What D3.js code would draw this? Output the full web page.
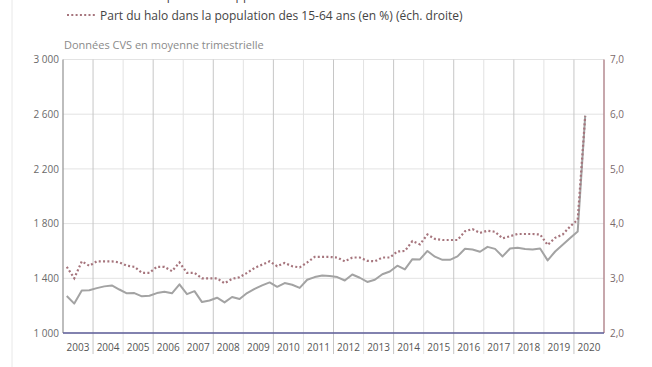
<!DOCTYPE html>
<html><head><meta charset="utf-8">
<script src="https://cdn.jsdelivr.net/npm/d3@7"></script>
<style>html,body{margin:0;padding:0;background:#fff;}svg{display:block;font-family:"Open Sans",sans-serif;}</style>
</head><body>
<svg id="c" width="652" height="367"></svg>
<script>
const years = [2003,2004,2005,2006,2007,2008,2009,2010,2011,2012,2013,2014,2015,2016,2017,2018,2019,2020];
const quarters = [];
years.forEach(y => { for (let q=1;q<=4;q++) if (!(y===2020 && q>2)) quarters.push({year:y,q:q}); });
const haloThousands = [
 1270,1215,1310,1312, 1328,1341,1348,1318, 1290,1292,1268,1272, 1292,1302,1290,1356,
 1284,1306,1226,1238, 1258,1224,1263,1248, 1292,1322,1348,1370, 1338,1365,1353,1330,
 1389,1409,1421,1416, 1409,1384,1428,1404, 1373,1389,1430,1450, 1492,1465,1540,1538,
 1600,1558,1535,1535, 1560,1616,1610,1594, 1630,1615,1560,1618, 1624,1615,1611,1618,
 1531,1596,1645,1694, 1743,2590];
const haloShare = [
 3.21,3.00,3.31,3.23, 3.31,3.31,3.31,3.29, 3.23,3.21,3.10,3.10, 3.21,3.21,3.13,3.29,
 3.10,3.10,3.00,3.00, 3.00,2.91,2.99,3.02, 3.10,3.19,3.25,3.31, 3.22,3.28,3.22,3.20,
 3.29,3.39,3.39,3.39, 3.38,3.31,3.38,3.38, 3.32,3.31,3.38,3.38, 3.49,3.50,3.68,3.62,
 3.80,3.72,3.70,3.70, 3.70,3.86,3.90,3.83, 3.87,3.85,3.73,3.77, 3.81,3.81,3.81,3.80,
 3.61,3.74,3.80,3.95, 4.07,5.97];
const leftTicks = [1000,1400,1800,2200,2600,3000];
const leftTickLabels = ["1 000","1 400","1 800","2 200","2 600","3 000"];
const rightTicks = [2,3,4,5,6,7];
const rightTickLabels = ["2,0","3,0","4,0","5,0","6,0","7,0"];
const legendHidden = "Nombre de personnes appartenant au halo";
const legendShare = "Part du halo dans la population des 15-64 ans (en %) (éch. droite)";
const subtitle = "Données CVS en moyenne trimestrielle";

const svg = d3.select("#c");
const L = 63, R = 604, T = 59.5, B = 333;
const x = d3.scaleLinear().domain([2003, 2021]).range([L, R]);
const yL = d3.scaleLinear().domain([1000, 3000]).range([B, T]);
const yR = d3.scaleLinear().domain([2, 7]).range([B, T]);
const xq = d => x(d.year + (d.q - 0.5) / 4);

// left page border
svg.append("line").attr("x1",12).attr("x2",12).attr("y1",0).attr("y2",367).attr("stroke","#e8e8e8").attr("stroke-width",1);

// horizontal grid
svg.append("g").selectAll("line").data(leftTicks).join("line")
  .attr("x1", L).attr("x2", R).attr("y1", d => yL(d)).attr("y2", d => yL(d))
  .attr("stroke", "#e3e3e3").attr("stroke-width", 1);

// vertical grid at year boundaries
const bounds = d3.range(2004, 2021);
svg.append("g").selectAll("line").data(bounds).join("line")
  .attr("x1", d => x(d)).attr("x2", d => x(d)).attr("y1", T).attr("y2", 354)
  .attr("stroke", d => d % 2 === 0 ? "#c6c6c6" : "#e2e2e2").attr("stroke-width", 1);

// axes lines
svg.append("line").attr("x1",L).attr("x2",L).attr("y1",T).attr("y2",B).attr("stroke","#9a9a9a").attr("stroke-width",1.3);
svg.append("line").attr("x1",R).attr("x2",R).attr("y1",T).attr("y2",B).attr("stroke","#b48a90").attr("stroke-width",1.5);

// left axis labels
const axL = d3.axisLeft(yL).tickValues(leftTicks).tickFormat((d,i) => leftTickLabels[i]).tickSize(0).tickPadding(4);
const gL = svg.append("g").attr("transform", `translate(${L},0)`).call(axL);
gL.select(".domain").remove();
gL.selectAll("text").attr("font-size", 10).attr("fill", "#6a6a6a").attr("font-family","Open Sans");

const axR = d3.axisRight(yR).tickValues(rightTicks).tickFormat((d,i) => rightTickLabels[i]).tickSize(0).tickPadding(6);
const gR = svg.append("g").attr("transform", `translate(${R},0)`).call(axR);
gR.select(".domain").remove();
gR.selectAll("text").attr("font-size", 10).attr("fill", "#7a6a6c").attr("font-family","Open Sans");

// year labels
svg.append("g").selectAll("text").data(years).join("text")
  .attr("x", d => x(d + 0.5)).attr("y", 351)
  .attr("text-anchor", "middle").attr("font-size", 10).attr("fill", "#555")
  .text(d => d);

// bottom axis line
svg.append("line").attr("x1",L).attr("x2",R).attr("y1",B).attr("y2",B).attr("stroke","#5c5c98").attr("stroke-width",1.6);

// grey line (left scale)
svg.append("path").datum(quarters.map((d,i)=>({d, v: haloThousands[i]})))
  .attr("fill","none").attr("stroke","#a3a3a3").attr("stroke-width",2).attr("stroke-linejoin","round")
  .attr("d", d3.line().x(p => xq(p.d)).y(p => yL(p.v)));

// dotted line (right scale)
svg.append("path").datum(quarters.map((d,i)=>({d, v: haloShare[i]})))
  .attr("fill","none").attr("stroke","#a6757d").attr("stroke-width",2.2).attr("stroke-dasharray","2,2.3")
  .attr("d", d3.line().x(p => xq(p.d)).y(p => yR(p.v)));

// subtitle
svg.append("text").attr("x", 64).attr("y", 49).attr("font-size", 11).attr("fill", "#8a8a8a").text(subtitle);

// legend (first entry is scrolled out of view at the top, as in the reference)
svg.append("line").attr("x1",67).attr("x2",95).attr("y1",-5).attr("y2",-5).attr("stroke","#a3a3a3").attr("stroke-width",2);
svg.append("text").attr("x",100).attr("y",-0.5).attr("font-size",12).attr("fill","#444").text(legendHidden);
svg.append("line").attr("x1",67).attr("x2",95).attr("y1",15).attr("y2",15).attr("stroke","#a6757d").attr("stroke-width",2.2).attr("stroke-dasharray","2,2.3");
svg.append("text").attr("x",100).attr("y",19.5).attr("font-size",12).attr("fill","#444").text(legendShare);
</script>
</body></html>
